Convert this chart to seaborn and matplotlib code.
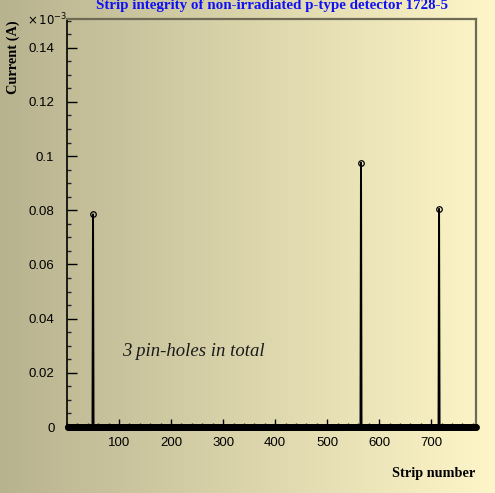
import numpy as np
import pandas as pd
import matplotlib
matplotlib.use("Agg")
import matplotlib.pyplot as plt
from matplotlib.ticker import MultipleLocator, FuncFormatter
import seaborn as sns

# Strip scan: every strip reads zero current except the pin-holes
first_strip = 1
last_strip = 786
pinhole_strips = [50, 565, 715]
pinhole_currents = [0.0785, 0.0975, 0.0805]   # in units of 1e-3 A

title = "Strip integrity of non-irradiated p-type detector 1728-5"
xlabel = "Strip number"
ylabel = "Current (A)"
note = "3 pin-holes in total"
x_ticks = [100, 200, 300, 400, 500, 600, 700]
y_ticks = [0, 0.02, 0.04, 0.06, 0.08, 0.1, 0.12, 0.14]

strips = np.arange(first_strip, last_strip + 1)
current = np.zeros(strips.size)
for s, c in zip(pinhole_strips, pinhole_currents):
    current[strips == s] = c
df = pd.DataFrame({"strip": strips, "current": current})

sns.set_theme(style="ticks")
plt.rcParams["font.family"] = ["Liberation Sans", "DejaVu Sans"]

W, H = 495, 493
fig = plt.figure(figsize=(W / 100, H / 100), dpi=100)

# horizontal canvas gradient
bg = fig.add_axes([0, 0, 1, 1], zorder=-10)
left_c = np.array([184, 179, 143]) / 255
right_c = np.array([254, 246, 200]) / 255
t = np.linspace(0, 1, 256)[None, :, None]
grad = left_c * (1 - t) + right_c * t
bg.imshow(grad, aspect="auto", extent=[0, 1, 0, 1])
bg.axis("off")

ax = fig.add_axes([67 / W, 1 - 427 / H, (476 - 67) / W, (427 - 19) / H])
ax.set_facecolor("none")

sns.lineplot(data=df, x="strip", y="current", ax=ax, color="black",
             linewidth=1.4, marker="o", markersize=4.0, markerfacecolor="none",
             markeredgecolor="black", markeredgewidth=0.9,
             estimator=None, sort=False, clip_on=False, zorder=3)

ax.set_xlim(0, 786)
ax.set_ylim(0, 0.1506)
ax.set_xticks(x_ticks)
ax.set_yticks(y_ticks)
ax.xaxis.set_minor_locator(MultipleLocator(20))
ax.yaxis.set_minor_locator(MultipleLocator(0.005))
ax.yaxis.set_major_formatter(FuncFormatter(lambda v, p: "%g" % v))
ax.tick_params(axis="both", which="major", direction="in", length=6, width=1,
               labelsize=9.5, colors="black", top=False, right=False)
ax.tick_params(axis="y", which="major", pad=9, length=7)
ax.tick_params(axis="x", which="major", pad=7)
ax.tick_params(axis="both", which="minor", direction="in", length=3, width=1,
               top=False, right=False)
ax.set_xlabel("")
ax.set_ylabel("")

for side in ("left", "bottom"):
    ax.spines[side].set_color("black")
    ax.spines[side].set_linewidth(1.2)
for side in ("top", "right"):
    ax.spines[side].set_visible(True)
    ax.spines[side].set_color("#6e6a55")
    ax.spines[side].set_linewidth(1.6)

fig.text(272 / W, 1 - 9 / H, title, ha="center", va="baseline",
         fontsize=10.8, fontweight="bold", color="#1010f5",
         family=["Liberation Serif"])
fig.text(13 / W, 1 - 57 / H, ylabel, ha="center", va="center", rotation=90,
         fontsize=10.4, fontweight="bold", color="black",
         family=["Liberation Serif"])
fig.text(475 / W, 1 - 473 / H, xlabel, ha="right", va="center",
         fontsize=10.3, fontweight="bold", color="black",
         family=["Liberation Serif"])
fig.text(27 / W, 1 - 20 / H, r"$\times\,10^{-3}$", ha="left", va="center",
         fontsize=8.5, color="black")
fig.text(122 / W, 1 - 352 / H, note, ha="left", va="center",
         fontsize=13.5, fontstyle="italic", color="#1a1a1a",
         family=["Liberation Serif"])

fig.savefig("out.png", dpi=100)
